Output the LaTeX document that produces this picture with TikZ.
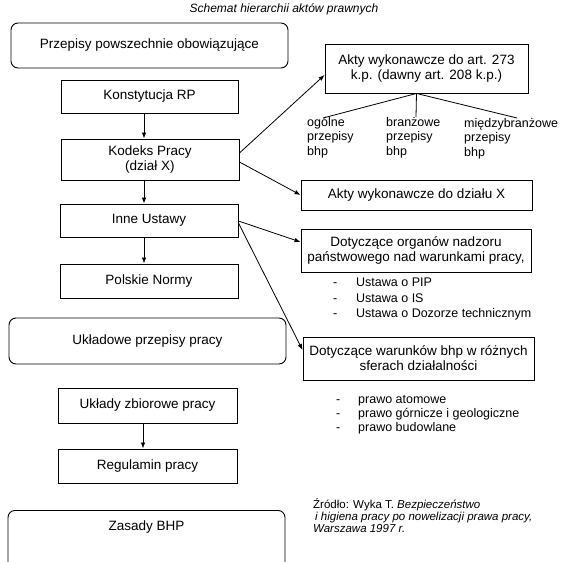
\documentclass[tikz,border=0pt]{standalone}
\usepackage{fontspec}
\setmainfont{Liberation Sans}
\usetikzlibrary{arrows.meta}
\begin{document}
\begin{tikzpicture}[x=1pt,y=-1pt,
    box/.style={draw,line width=0.9pt,inner sep=0pt,align=center,font=\fontsize{13.5}{15}\selectfont},
    rbox/.style={box,rounded corners=7pt},
    lbl/.style={inner sep=0pt,anchor=north west,align=left,font=\fontsize{12.5}{14.5}\selectfont},
    arr/.style={-{Latex[length=6pt,width=4.5pt]},line width=0.8pt}]
\useasboundingbox (0,0) rectangle (568,562);

\node[font=\fontsize{12}{13}\selectfont\itshape] (title) at (284,9) {Schemat hierarchii aktów prawnych};

% lewa kolumna
\node[rbox,minimum width=277,minimum height=45] (powsz) at (149.5,45.5) {Przepisy powszechnie obowiązujące};
\node[box,minimum width=177,minimum height=33] (konst) at (149.5,96.5) {Konstytucja RP};
\node[box,minimum width=178,minimum height=41] (kodeks) at (150,159.5) {Kodeks Pracy\\(dział X)};
\node[box,minimum width=178,minimum height=33] (inne) at (149,220.5) {Inne Ustawy};
\node[box,minimum width=178,minimum height=34] (normy) at (149,281) {Polskie Normy};
\node[rbox,minimum width=277,minimum height=46] (ukladowe) at (147.5,341) {Układowe przepisy pracy};
\node[box,minimum width=179,minimum height=35] (uklady) at (147.5,405.5) {Układy zbiorowe pracy};
\node[box,minimum width=179,minimum height=34] (regulamin) at (147.5,466) {Regulamin pracy};
\node[rbox,minimum width=277,minimum height=90,anchor=north] (zasady) at (146.5,510) {};
\node[font=\fontsize{13.5}{15}\selectfont] (zasadyt) at (146.5,527) {Zasady BHP};

\draw[arr] ([xshift=-5.5pt]konst.south) -- ([xshift=-6pt]kodeks.north);
\draw[arr] ([xshift=-6pt]kodeks.south) -- ([xshift=-5pt]inne.north);
\draw[arr] ([xshift=-5pt]inne.south) -- ([xshift=-5pt]normy.north);
\draw[arr] ([xshift=-4.5pt]uklady.south) -- ([xshift=-4.5pt]regulamin.north);

% prawa kolumna
\node[box,minimum width=203,minimum height=49] (akty273) at (426.5,68.5) {Akty wykonawcze do art. 273\\k.p. (dawny art. 208 k.p.)};
\node[lbl] (ogolne) at (307,117) {ogólne\\przepisy\\bhp};
\node[lbl] (branz) at (386,117) {branżowe\\przepisy\\bhp};
\node[lbl] (miedzy) at (464,118) {międzybranżowe\\przepisy\\bhp};
\coordinate (rozg) at ([xshift=-10pt]akty273.south);
\coordinate (k1) at (323,118);
\coordinate (k2) at (416,117);
\coordinate (k3) at (517,118);
\draw[line width=0.8pt] (rozg) -- (k1) (rozg) -- (k2) (rozg) -- (k3);

\node[box,minimum width=231,minimum height=30] (aktyX) at (416.5,195) {Akty wykonawcze do działu X};
\node[box,minimum width=230,minimum height=43] (organy) at (416,250.5) {Dotyczące organów nadzoru\\państwowego nad warunkami pracy,};
\node[lbl,font=\fontsize{12.5}{15.5}\selectfont] (lista1) at (333,278) {\makebox[23pt][l]{-}Ustawa o PIP\\\makebox[23pt][l]{-}Ustawa o IS\\\makebox[23pt][l]{-}Ustawa o Dozorze technicznym};
\node[box,minimum width=231,minimum height=43] (warunki) at (418.5,358.5) {Dotyczące warunków bhp w różnych\\sferach działalności};
\node[lbl,font=\fontsize{12.5}{14}\selectfont] (lista2) at (336,395) {\makebox[22pt][l]{-}prawo atomowe\\\makebox[22pt][l]{-}prawo górnicze i geologiczne\\\makebox[22pt][l]{-}prawo budowlane};

\draw[arr] ([yshift=6.5pt]kodeks.east) -- ([yshift=-6.5pt]akty273.west);
\draw[arr] ([yshift=-2.5pt]kodeks.east) -- (aktyX.west);
\draw[arr] ([yshift=-0.5pt]inne.east) -- ([yshift=8.5pt]organy.west);
\draw[arr] ([yshift=-2.5pt]inne.east) -- ([yshift=8.5pt]warunki.west);

\node[inner sep=0pt,anchor=north west,align=left,font=\fontsize{11.5}{12}\selectfont] (zrodlo) at (313,498) {Źródło: Wyka T. \textit{Bezpieczeństwo}\\\hspace*{2pt}\textit{i higiena pracy po nowelizacji prawa pracy,}\\\textit{Warszawa 1997 r.}};
\end{tikzpicture}
\end{document}
